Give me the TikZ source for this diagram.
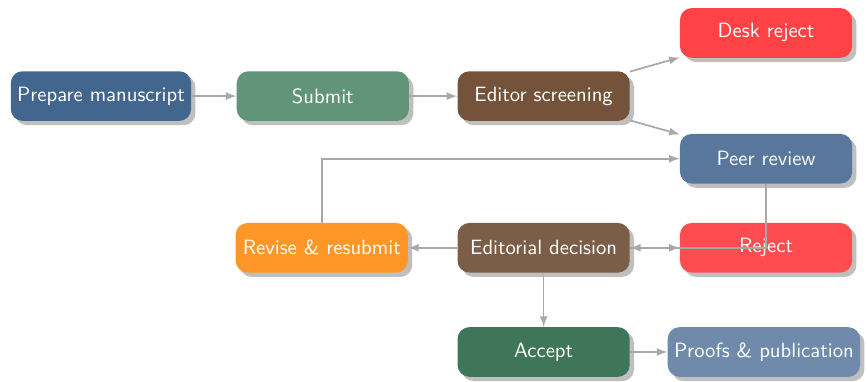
\documentclass[tikz,border=0pt]{standalone}
\usepackage{tikz}
\usetikzlibrary{shadows,arrows}
\definecolor{prepblue}{RGB}{66,102,142}
\definecolor{submitgreen}{RGB}{98,148,121}
\definecolor{screenbrown}{RGB}{116,83,58}
\definecolor{deskred}{RGB}{255,66,70}
\definecolor{peerblue}{RGB}{89,119,157}
\definecolor{reviseorange}{RGB}{255,150,40}
\definecolor{decisionbrown}{RGB}{124,93,72}
\definecolor{rejectred}{RGB}{255,76,80}
\definecolor{acceptgreen}{RGB}{63,118,89}
\definecolor{proofsblue}{RGB}{111,138,171}
\definecolor{linkgray}{RGB}{168,168,168}

\begin{document}
\begin{tikzpicture}[
    stage/.style={rounded corners=0.22cm, minimum width=3.19cm, minimum height=0.92cm,
                  text=white, font=\sffamily\fontsize{10.9}{13}\selectfont,
                  drop shadow={shadow xshift=0.08cm, shadow yshift=-0.08cm, fill=black!25, opacity=1}},
    link/.style={draw=linkgray, line width=0.9pt, -latex}]
    \useasboundingbox (0,0) rectangle (16.06,-7.07);

    % stages
    \node[stage, fill=prepblue]      (prep)     at (1.87,-1.78)  {Prepare manuscript};
    \node[stage, fill=submitgreen]   (submit)   at (5.98,-1.78)  {Submit};
    \node[stage, fill=screenbrown]   (screen)   at (10.07,-1.78) {Editor screening};
    \node[stage, fill=deskred]       (desk)     at (14.19,-0.61) {Desk reject};
    \node[stage, fill=peerblue]      (peer)     at (14.19,-2.94) {Peer review};
    \node[stage, fill=reviseorange]  (revise)   at (5.96,-4.59)  {Revise \& resubmit};
    \node[stage, fill=decisionbrown] (decision) at (10.07,-4.59) {Editorial decision};
    \node[stage, fill=rejectred]     (reject)   at (14.19,-4.59) {Reject};
    \node[stage, fill=acceptgreen]   (accept)   at (10.07,-6.52) {Accept};
    \node[stage, fill=proofsblue]    (proofs)   at (14.15,-6.52) {Proofs \& publication};

    % links
    \draw[link] (prep) -- (submit);
    \draw[link] (submit) -- (screen);
    \draw[link] (screen) -- (desk);
    \draw[link] (screen) -- (peer);
    \draw[link] (peer) |- (decision);
    \draw[link] (decision) -- (reject);
    \draw[link] (decision) -- (revise);
    \draw[link] (revise) |- (peer);
    \draw[link] (decision) -- (accept);
    \draw[link] (accept) -- (proofs);
\end{tikzpicture}
\end{document}
